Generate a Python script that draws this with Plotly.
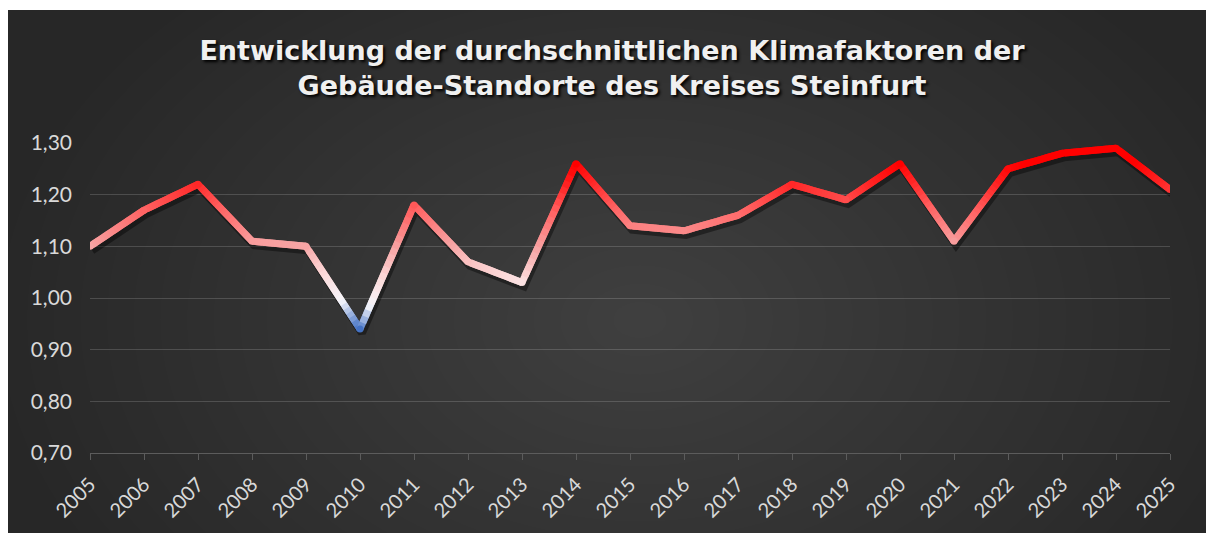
import numpy as np
import plotly.graph_objects as go

# ---- data ----
years = list(range(2005, 2026))
klimafaktor = [1.10, 1.17, 1.22, 1.11, 1.10, 0.94, 1.18, 1.07, 1.03, 1.26, 1.14,
               1.13, 1.16, 1.22, 1.19, 1.26, 1.11, 1.25, 1.28, 1.29, 1.21]
y_ticks = [0.70, 0.80, 0.90, 1.00, 1.10, 1.20, 1.30]
title_text = ("Entwicklung der durchschnittlichen Klimafaktoren der<br>"
              "Gebäude-Standorte des Kreises Steinfurt")

# ---- colour gradient by value (blue -> white -> red) ----
stops = [(0.94, (68, 114, 196)), (0.99, (245, 245, 250)), (1.04, (252, 220, 220)),
         (1.10, (247, 165, 165)), (1.17, (255, 100, 100)), (1.22, (255, 40, 40)),
         (1.26, (255, 0, 0))]


def colour(v):
    vs = [s[0] for s in stops]
    rgb = [np.interp(v, vs, [s[1][i] for s in stops]) for i in range(3)]
    return "rgb(%d,%d,%d)" % tuple(int(round(c)) for c in rgb)


# ---- layout geometry (figure pixels; page adds an 8px body margin) ----
W, H = 1206, 525
L, R, T, B = 82, 44, 135, 80
PW, PH = W - L - R, H - T - B
Y0, Y1 = 0.70, 1.30
X0, X1 = years[0], years[-1]


def px(xp):
    return (xp - L) / PW


def py(yp):
    return (H - B - yp) / PH


fig = go.Figure()

# data trace on the main axes (carries hover, invisible markers)
fig.add_trace(go.Scatter(
    x=years, y=klimafaktor, mode="markers", name="Klimafaktor",
    marker=dict(size=10, opacity=0),
    hovertemplate="%{x}: %{y:.2f}<extra></extra>", showlegend=False))

# drop shadow on an overlay axis pair offset by a few pixels
dy = 4 * (Y1 - Y0) / PH
dx = 2 * (X1 - X0) / PW
fig.add_trace(go.Scatter(
    x=years, y=klimafaktor, mode="lines", name="Schatten", xaxis="x2", yaxis="y2",
    line=dict(color="rgba(0,0,0,0.4)", width=8),
    hoverinfo="skip", showlegend=False))

# gradient stroke on a top overlay axis pair (same scale as the main axes):
# every segment is drawn as short overlapping pieces coloured by value
K = 20
for i in range(len(years) - 1):
    xs = np.linspace(years[i], years[i + 1], K + 1)
    ys = np.linspace(klimafaktor[i], klimafaktor[i + 1], K + 1)
    for k in range(K):
        j = min(k + 2, K)
        fig.add_trace(go.Scatter(
            x=xs[k:j + 1], y=ys[k:j + 1], mode="lines", xaxis="x3", yaxis="y3",
            line=dict(color=colour(ys[k:j + 1].mean()), width=7),
            hoverinfo="skip", showlegend=False))

# joints
fig.add_trace(go.Scatter(
    x=years, y=klimafaktor, mode="markers", name="Punkte", xaxis="x3", yaxis="y3",
    marker=dict(size=7, color=[colour(v) for v in klimafaktor], line=dict(width=0)),
    hoverinfo="skip", showlegend=False))

# background radial glow
shapes = []
N = 24
cx, cy, RX, RY = 632, 312, 640, 440
for k in range(N, 0, -1):
    f = k / N
    shapes.append(dict(type="circle", xref="paper", yref="paper",
                       x0=px(cx - RX * f), x1=px(cx + RX * f),
                       y0=py(cy + RY * f), y1=py(cy - RY * f),
                       fillcolor="rgba(255,255,255,0.0098)", line=dict(width=0),
                       layer="below"))
# thin white strip on top
shapes.append(dict(type="rect", xref="paper", yref="paper",
                   x0=px(-5), x1=px(W + 5), y0=py(2), y1=py(-5),
                   fillcolor="white", line=dict(width=0), layer="below"))

tick_font = dict(family="Lato", size=20, color="#d9d9d9")

fig.update_layout(
    width=W, height=H,
    margin=dict(l=L, r=R, t=T, b=B, autoexpand=False),
    paper_bgcolor="#272727",
    plot_bgcolor="rgba(0,0,0,0)",
    separators=",.",
    shapes=shapes,
    hovermode="closest",
    title=dict(text=title_text, x=604 / W, xref="container", xanchor="center",
               y=1 - 52 / H, yref="container", yanchor="top",
               font=dict(family="DejaVu Sans", size=27, weight=700, color="#f0f0f0",
                         shadow="2px 2px 3px #000000")),
    xaxis=dict(range=[X0, X1], tickvals=years,
               ticktext=[str(y) for y in years], tickangle=-45,
               tickfont=tick_font, showgrid=False, zeroline=False, automargin=False,
               showline=True, linecolor="#5c5c5c", linewidth=1,
               ticks="outside", ticklen=6, tickcolor="#5c5c5c", ticklabelstandoff=5),
    yaxis=dict(range=[Y0, Y1], tickvals=y_ticks, tickformat=".2f",
               tickfont=dict(family="Lato", size=21, color="#d9d9d9"),
               showgrid=True, automargin=False,
               gridcolor="rgba(255,255,255,0.16)", gridwidth=1,
               zeroline=False, showline=False, ticks="", ticklabelstandoff=17),
    xaxis2=dict(range=[X0 - dx, X1 - dx], overlaying="x", visible=False),
    yaxis2=dict(range=[Y0 + dy, Y1 + dy], overlaying="y", visible=False),
    xaxis3=dict(range=[X0, X1], overlaying="x", visible=False),
    yaxis3=dict(range=[Y0, Y1], overlaying="y", visible=False),
)

fig.write_html("out.html")
